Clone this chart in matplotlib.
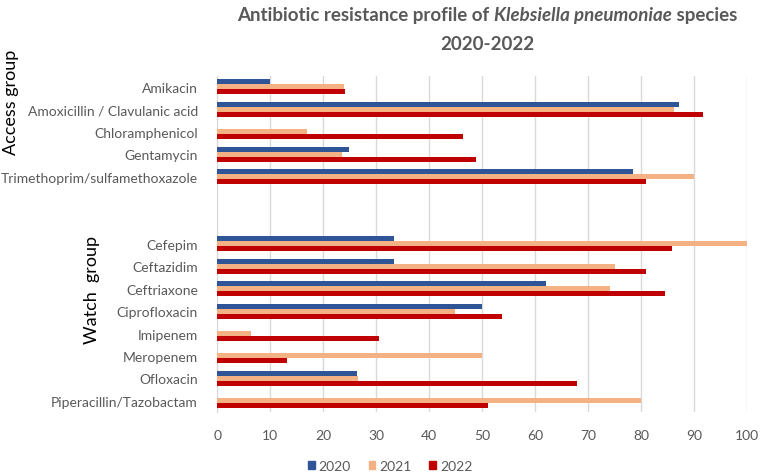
import matplotlib
matplotlib.use("Agg")
import matplotlib.pyplot as plt
from matplotlib.patches import Patch
import numpy as np

categories = ["Amikacin", "Amoxicillin / Clavulanic acid", "Chloramphenicol", "Gentamycin",
              "Trimethoprim/sulfamethoxazole",
              "Cefepim", "Ceftazidim", "Ceftriaxone", "Ciprofloxacin", "Imipenem",
              "Meropenem", "Ofloxacin", "Piperacillin/Tazobactam"]
years = ["2020", "2021", "2022"]
v2020 = [10, 87.1, 0, 24.9, 78.5, 33.3, 33.3, 62.0, 50.0, 0, 0, 26.3, 0]
v2021 = [23.9, 86.2, 17.0, 23.6, 90.0, 100, 75.0, 74.1, 44.9, 6.4, 50.0, 26.6, 80.0]
v2022 = [24.1, 91.6, 46.3, 48.9, 80.9, 85.7, 80.8, 84.4, 53.8, 30.5, 13.2, 67.8, 51.1]
group_labels = ["Access group", "Watch  group"]
title_parts = ["Antibiotic resistance profile of ", "Klebsiella pneumoniae", " species"]
title_line2 = "2020-2022"

colors = ["#2F5597", "#F4B183", "#C00000"]
grey = "#595959"
plt.rcParams['font.family'] = ['Lato', 'DejaVu Sans']

W, H = 760, 477
fig = plt.figure(figsize=(7.6, 4.77), dpi=100)
ax = fig.add_axes([217.3/W, 1-413/H, 530/W, (413-76.7)/H])

pos = np.array(list(range(5)) + list(range(7, 15)), dtype=float) + 0.5
h = 0.2234
for i, (vals, c) in enumerate(zip([v2020, v2021, v2022], colors)):
    ax.barh(pos + (i - 1) * h, vals, height=h, color=c, label=years[i], zorder=3)

ax.set_ylim(15, 0)
ax.set_xlim(0, 100)
ax.set_xticks(np.arange(0, 101, 10))
ax.set_yticks(pos)
ax.set_yticklabels(categories)
ax.grid(axis='x', color='#D9D9D9', linewidth=1, zorder=0)
for s in ['top', 'right', 'bottom']:
    ax.spines[s].set_visible(False)
ax.spines['left'].set_color('#D9D9D9')
ax.tick_params(axis='both', length=0, colors=grey, labelsize=10)
ax.tick_params(axis='y', pad=14)
ax.tick_params(axis='x', pad=12)

fig.text(11/W, 1-102/H, group_labels[0], rotation=90, ha='center', va='center',
         fontsize=13, color='black')
fig.text(92/W, 1-290/H, group_labels[1], rotation=90, ha='center', va='center',
         fontsize=13, color='black')

# title built from pieces (italic species name)
renderer = fig.canvas.get_renderer()
tsize = 13.5
styles = ['normal', 'italic', 'normal']
pieces = []
for txt, st in zip(title_parts, styles):
    t = fig.text(0, 1-16/H, txt, ha='left', va='center', fontsize=tsize,
                 fontweight='bold', fontstyle=st, color=grey)
    pieces.append(t)
widths = [p.get_window_extent(renderer).width for p in pieces]
total = sum(widths)
x0 = 487 - total / 2
for p, w in zip(pieces, widths):
    p.set_x(x0 / W)
    x0 += w
fig.text(487/W, 1-44/H, title_line2, ha='center', va='center', fontsize=tsize,
         fontweight='bold', color=grey)

handles = [Patch(color=c, label=y) for c, y in zip(colors, years)]
fig.legend(handles=handles, loc='center', bbox_to_anchor=(390/W, 1-467/H), ncol=3,
           frameon=False, fontsize=10, labelcolor=grey, handlelength=0.5, handleheight=0.5,
           handletextpad=0.25, columnspacing=1.3)

fig.savefig("out.png", dpi=100)
